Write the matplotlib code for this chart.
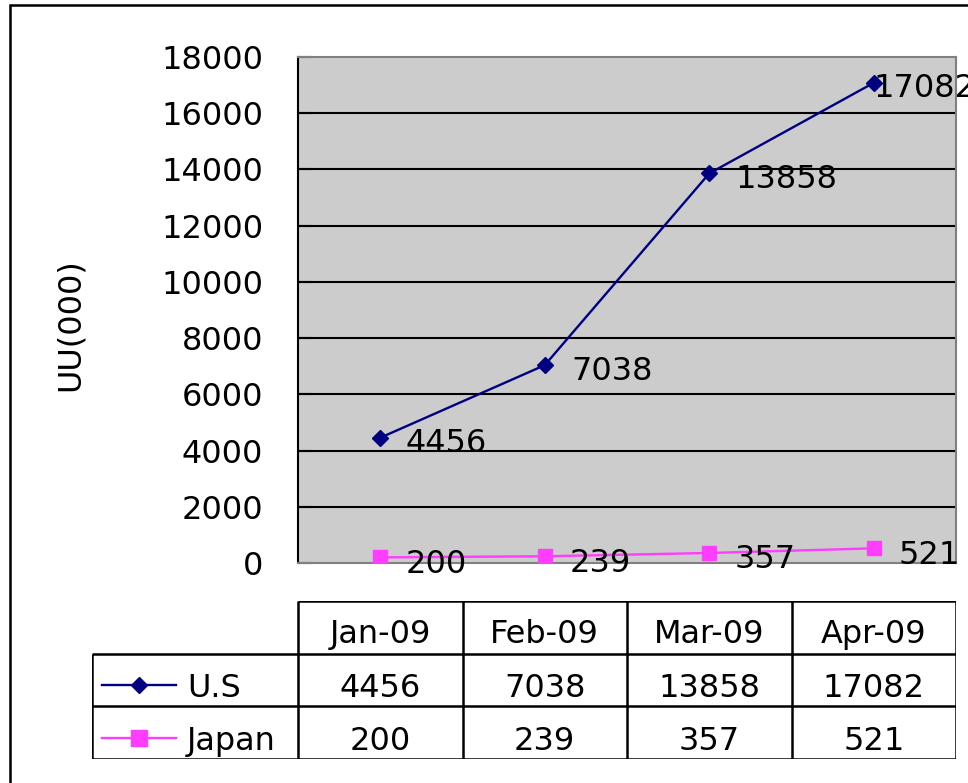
import matplotlib
matplotlib.use("Agg")
import matplotlib.pyplot as plt
from matplotlib.patches import Rectangle
from matplotlib.lines import Line2D

# Data
MONTHS = ["Jan-09", "Feb-09", "Mar-09", "Apr-09"]
US = [4456, 7038, 13858, 17082]
JAPAN = [200, 239, 357, 521]
SERIES_NAMES = ["U.S", "Japan"]
Y_TICKS = [0, 2000, 4000, 6000, 8000, 10000, 12000, 14000, 16000, 18000]

# Style
US_COLOR = "#000080"
JP_COLOR = "#FF3DFF"
PLOT_BG = "#CCCCCC"
FONT_SIZE = 23
plt.rcParams["font.family"] = ["DejaVu Sans"]

W, H = 968, 783
DPI = 100


def fx(px):
    return px / W


def fy(py):
    return 1 - py / H


fig = plt.figure(figsize=(W / DPI, H / DPI), dpi=DPI)

# outer chart border (cropped on the right and bottom)
fig.patches.append(Rectangle((fx(10), fy(800)), fx(1000), (800 - 5) / H,
                             transform=fig.transFigure, fill=False,
                             edgecolor="black", linewidth=1.8, clip_on=False))

# plot area
ax = fig.add_axes([fx(298), fy(563), (956 - 298) / W, (563 - 57) / H])
ax.set_facecolor(PLOT_BG)
x = list(range(len(MONTHS)))

ax.plot(x, US, color=US_COLOR, lw=1.7, marker="D", ms=8.5, zorder=3)
ax.plot(x, JAPAN, color=JP_COLOR, lw=1.7, marker="s", ms=10, zorder=3)

ax.set_xlim(-0.5, 3.5)
ax.set_ylim(0, 18000)
ax.set_yticks(Y_TICKS)
ax.set_yticklabels([str(v) for v in Y_TICKS], fontsize=FONT_SIZE)
ax.set_xticks([])
ax.tick_params(axis="y", direction="in", length=10, width=1.5, pad=25)
for v in Y_TICKS[1:-1]:
    ax.axhline(v, color="black", lw=1.5, zorder=1)
ax.spines["left"].set_color("black")
ax.spines["left"].set_linewidth(1.5)
for s in ["top", "right", "bottom"]:
    ax.spines[s].set_color("#808080")
    ax.spines[s].set_linewidth(1.5)

# data labels
us_dx = [25, 27, 26, 0]
for i, v in enumerate(US):
    ax.annotate(str(v), (x[i], v), xytext=(us_dx[i], -6), textcoords="offset pixels",
                ha="left", va="center", fontsize=FONT_SIZE, annotation_clip=False, zorder=4)
for i, v in enumerate(JAPAN):
    ax.annotate(str(v), (x[i], v), xytext=(25, -7), textcoords="offset pixels",
                ha="left", va="center", fontsize=FONT_SIZE, annotation_clip=False, zorder=4)

fig.text(fx(70), fy(325), "UU(000)", rotation=90, ha="center", va="center",
         fontsize=FONT_SIZE)

# data table
col_w = (956 - 298) / 4
key_w = (298 - 92) / col_w
axt = fig.add_axes([fx(92), fy(759), (956 - 92) / W, (759 - 601) / H])
axt.set_xlim(-0.5 - key_w, 3.5)
axt.set_ylim(3, 0)
axt.axis("off")
left = -0.5 - key_w
tlw = 1.8
axt.hlines(0, -0.5, 3.5, color="black", lw=tlw)
axt.hlines([1, 2, 3], left, 3.5, color="black", lw=tlw)
axt.vlines([-0.5, 0.5, 1.5, 2.5, 3.5], 0, 3, color="black", lw=tlw)
axt.vlines(left, 1, 3, color="black", lw=tlw)

for i, m in enumerate(MONTHS):
    axt.text(x[i], 0.64, m, ha="center", va="center", fontsize=FONT_SIZE)
for r, (vals, name, col, mk, ms) in enumerate(
        [(US, SERIES_NAMES[0], US_COLOR, "D", 8.5), (JAPAN, SERIES_NAMES[1], JP_COLOR, "s", 11)]):
    yr = r + 1.66
    for i, v in enumerate(vals):
        axt.text(x[i], yr, str(v), ha="center", va="center", fontsize=FONT_SIZE)
    k0 = left + 10 / col_w
    k1 = left + 84 / col_w
    axt.add_line(Line2D([k0, k1], [r + 1.6, r + 1.6], color=col, lw=1.7))
    axt.plot([(k0 + k1) / 2], [r + 1.6], marker=mk, color=col, ms=ms)
    axt.text(left + 95 / col_w, yr, name, ha="left", va="center", fontsize=FONT_SIZE)

fig.savefig("out.png", dpi=DPI)
